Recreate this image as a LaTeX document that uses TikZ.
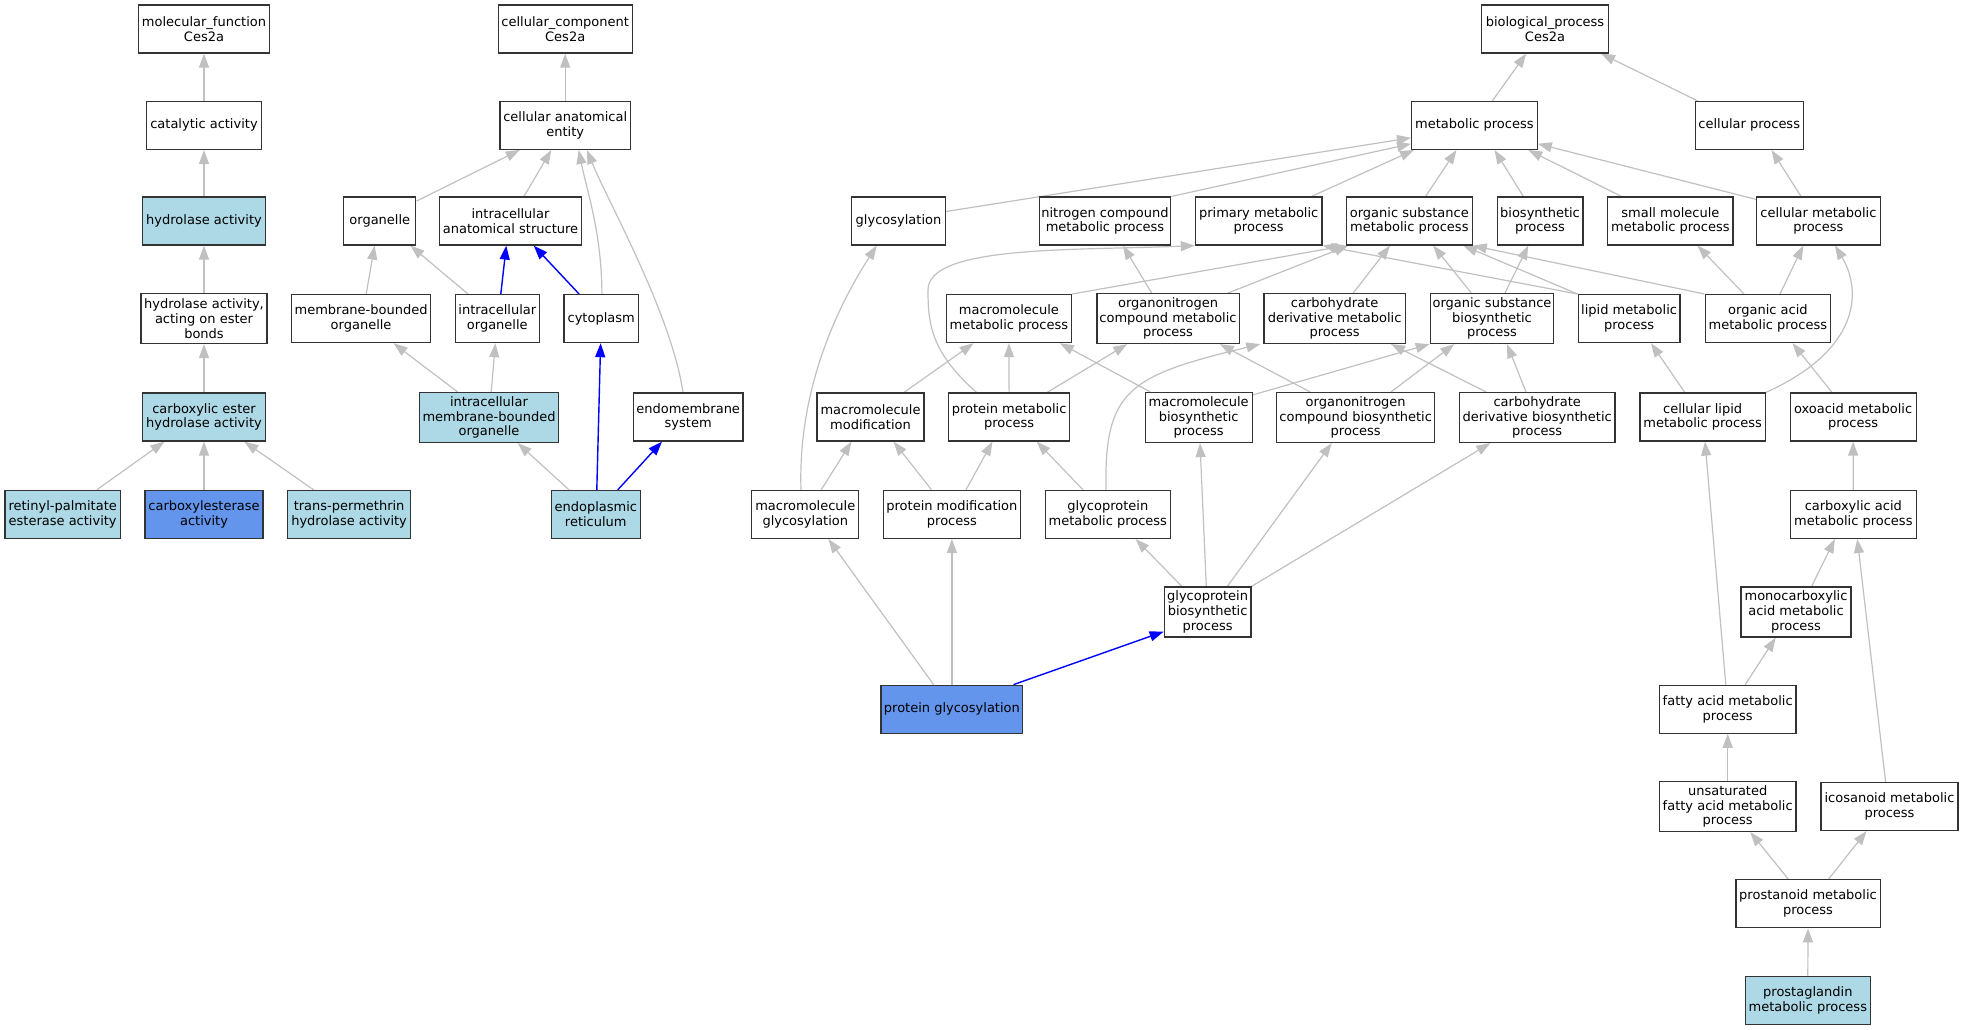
\documentclass[tikz,border=0pt]{standalone}
\usepackage{fontspec}
\setmainfont{DejaVu Sans}
\usetikzlibrary{arrows.meta,calc,backgrounds}
\definecolor{lightblue}{HTML}{ADD8E6}
\definecolor{cornflower}{HTML}{6495ED}
\definecolor{edgegray}{HTML}{C0C0C0}
\definecolor{boxc}{HTML}{333333}
\tikzset{
  box/.style={draw=boxc, line width=1.2bp, fill=white, minimum height=48bp, inner sep=1bp, align=center,
    font=\fontsize{13bp}{14.8bp}\selectfont},
  lb/.style={fill=lightblue},
  cb/.style={fill=cornflower},
  tall/.style={minimum height=50bp},
  gedge/.style={draw=edgegray, line width=1.2bp, -{Triangle[length=14bp,width=10bp]}},
  bedge/.style={draw=blue, line width=1.4bp, -{Triangle[length=14bp,width=10bp]}}
}
\newcommand\nd[6][]{\node[box,#1,minimum width=#5bp] (#2) at (#3,#4) {#6};}
\newcommand\ed[5][gedge]{\draw[#1] ($(#2.north)+(#3,0)$) -- ($(#4.south)+(#5,0)$);}
\begin{document}
\begin{tikzpicture}[x=1bp,y=-1bp]
\useasboundingbox (0,0) rectangle (1963,1029);
% ---------- molecular function ----------
\nd{mf}{204}{29}{130.5}{molecular\_function\\Ces2a}
\nd{cat}{204}{125.4}{115}{catalytic activity}
\nd[lb]{hyd}{204}{221}{123}{hydrolase activity}
\nd[tall]{hye}{204}{318.5}{126}{hydrolase activity,\\acting on ester\\bonds}
\nd[lb]{ceh}{204}{417}{123}{carboxylic ester\\hydrolase activity}
\nd[lb]{ret}{62.7}{514.4}{115.3}{retinyl-palmitate\\esterase activity}
\nd[cb]{cxe}{204}{514.4}{118}{carboxylesterase\\activity}
\nd[lb]{tpm}{349.1}{514.4}{122.5}{trans-permethrin\\hydrolase activity}
% ---------- cellular component ----------
\nd{cc}{565.2}{29}{134}{cellular\_component\\Ces2a}
\nd{cae}{565.2}{125.4}{130.5}{cellular anatomical\\entity}
\nd{org}{379.8}{221}{72}{organelle}
\nd{ias}{510.5}{221}{141.4}{intracellular\\anatomical structure}
\nd{mbo}{361.1}{318.6}{139}{membrane-bounded\\organelle}
\nd{io}{497.3}{318.6}{83.7}{intracellular\\organelle}
\nd{cyt}{601.2}{318.6}{74.5}{cytoplasm}
\nd[lb,tall]{imb}{489}{417.5}{139}{intracellular\\membrane-bounded\\organelle}
\nd[lb]{er}{595.8}{514.4}{89}{endoplasmic\\reticulum}
\nd{ems}{688.2}{417}{109.5}{endomembrane\\system}
% ---------- biological process ----------
\nd{bp}{1545}{29}{126.4}{biological\_process\\Ces2a}
\nd{mp}{1474.4}{125.4}{125.6}{metabolic process}
\nd{cp}{1749.2}{125.4}{107.8}{cellular process}
\nd{gly}{898.5}{221}{94}{glycosylation}
\nd{ncm}{1105}{221}{131.7}{nitrogen compound\\metabolic process}
\nd{pri}{1258.7}{221}{126.6}{primary metabolic\\process}
\nd{osm}{1409.3}{221}{125.6}{organic substance\\metabolic process}
\nd{bio}{1540}{221}{85.8}{biosynthetic\\process}
\nd{smm}{1670.4}{221}{125.2}{small molecule\\metabolic process}
\nd{cme}{1818.4}{221}{123.5}{cellular metabolic\\process}
\nd{mmp}{1008.9}{318.6}{125.4}{macromolecule\\metabolic process}
\nd[tall]{onm}{1168}{318.5}{142.2}{organonitrogen\\compound metabolic\\process}
\nd[tall]{cdm}{1334.6}{318.5}{141.3}{carbohydrate\\derivative metabolic\\process}
\nd[tall]{osb}{1492}{318.5}{123.5}{organic substance\\biosynthetic\\process}
\nd{lip}{1629.1}{318.6}{101.9}{lipid metabolic\\process}
\nd{oam}{1767.9}{318.6}{125.6}{organic acid\\metabolic process}
\nd{mmo}{870.5}{417}{107}{macromolecule\\modification}
\nd{prm}{1009.1}{417}{120.8}{protein metabolic\\process}
\nd[tall]{mbp}{1198.7}{417.5}{107}{macromolecule\\biosynthetic\\process}
\nd[tall]{onb}{1355.7}{417.5}{158.3}{organonitrogen\\compound biosynthetic\\process}
\nd[tall]{cdb}{1537.2}{417.5}{155.6}{carbohydrate\\derivative biosynthetic\\process}
\nd{clm}{1702.6}{417}{125.2}{cellular lipid\\metabolic process}
\nd{oxo}{1853.1}{417}{126}{oxoacid metabolic\\process}
\nd{mgl}{805.3}{514.4}{107}{macromolecule\\glycosylation}
\nd{pmo}{951.9}{514.4}{136.8}{protein modification\\process}
\nd{gpm}{1107.8}{514.4}{125.4}{glycoprotein\\metabolic process}
\nd{cam}{1853.3}{514.4}{125.6}{carboxylic acid\\metabolic process}
\nd[tall]{gpb}{1207.6}{612}{86.7}{glycoprotein\\biosynthetic\\process}
\nd[tall]{mca}{1796}{612}{110}{monocarboxylic\\acid metabolic\\process}
\nd[cb]{pgl}{951.9}{709.2}{141.8}{protein glycosylation}
\nd{fam}{1727.7}{709.2}{136.6}{fatty acid metabolic\\process}
\nd[tall]{ufa}{1727.7}{806.5}{136.6}{unsaturated\\fatty acid metabolic\\process}
\nd{ico}{1889.5}{806.4}{137}{icosanoid metabolic\\process}
\nd{pro}{1808}{903.8}{144.2}{prostanoid metabolic\\process}
\nd[lb]{pgm}{1807.8}{1000.2}{125.2}{prostaglandin\\metabolic process}
\coordinate (via1) at (928,290);
\begin{scope}[on background layer]
% MF edges
\ed{cat}{0}{mf}{0}
\ed{hyd}{0}{cat}{0}
\ed{hye}{0}{hyd}{0}
\ed{ceh}{0}{hye}{0}
\ed{ret}{34.1}{ceh}{-39.6}
\ed{cxe}{0}{ceh}{0}
\ed{tpm}{-35.5}{ceh}{40.4}
% CC edges
\ed{cae}{0}{cc}{0}
\draw[gedge] ($(org.north east)+(0,4.7)$) -- ($(cae.south)+(-45.4,0)$);
\ed{ias}{13.5}{cae}{-13.9}
\draw[gedge] ($(cyt.north)+(0.7,0)$) .. controls +(0,-60) and +(8,40) .. ($(cae.south)+(13.5,0)$);
\draw[gedge] ($(ems.north)+(-5.2,0)$) .. controls +(-12,-80) and +(20,50) .. ($(cae.south)+(21.8,0)$);
\ed{mbo}{5.1}{org}{-5.2}
\ed{io}{-29.3}{org}{30.6}
\ed[bedge]{io}{3.5}{ias}{-4.2}
\ed[bedge]{cyt}{-22.1}{ias}{23.2}
\ed{imb}{-31.5}{mbo}{32.4}
\ed{imb}{2.2}{io}{-1.9}
\ed{er}{-26.8}{imb}{28.7}
\ed[bedge]{er}{1}{cyt}{-0.6}
\ed[bedge]{er}{22}{ems}{-26.2}
% BP edges
\ed{mp}{18}{bp}{-18.8}
\ed{cp}{-51.7}{bp}{56}
\draw[gedge] ($(gly.east)+(0,-9.5)$) -- ($(mp.west)+(0,12.4)$);
\draw[gedge] (ncm.north east) -- ($(mp.west)+(0,18.4)$);
\ed{pri}{52.8}{mp}{-60.4}
\ed{osm}{16.3}{mp}{-18}
\ed{bio}{-16.7}{mp}{20.1}
\ed{smm}{-49}{mp}{53.9}
\draw[gedge] ($(cme.north west)+(0,3)$) -- ($(mp.east)+(0,18.4)$);
\ed{cme}{-17.4}{cp}{22.3}
\ed{oam}{-23.9}{smm}{27.1}
\ed{oam}{12.1}{cme}{-15.2}
\draw[gedge] (oam.north west) -- (osm.south east);
\draw[gedge] (lip.north west) -- ($(osm.south)+(54,0)$);
\draw[gedge] (lip.north west) -- (pri.south east);
\draw[gedge] (mmp.north east) -- (osm.south west);
\ed{onm}{60.3}{osm}{-61}
\ed{onm}{-16.4}{ncm}{18}
\ed{cdm}{18.7}{osm}{-19.3}
\ed{osb}{-20.8}{osm}{23.9}
\ed{osb}{13}{bio}{-11.7}
\draw[gedge] (clm.north east) .. controls +(94.8,-42.5) and +(27,45) .. ($(cme.south)+(16.6,0)$);
\ed{mmo}{33.5}{mmp}{-35.3}
\ed{prm}{0}{mmp}{0}
\ed{prm}{38.1}{onm}{-40.8}
\draw[gedge] ($(prm.north)+(-32.6,0)$) .. controls +(-45,-40) and +(0,35) .. (via1)
  .. controls +(0,-45) and +(-120,5) .. (pri.south west);
\ed{mbp}{-48.4}{mmp}{50.9}
\draw[gedge] ($(mbp.north east)+(0,3)$) -- (osb.south west);
\ed{onb}{-45.7}{onm}{51.8}
\ed{onb}{35.3}{osb}{-37.7}
\ed{cdb}{-51.2}{cdm}{56.4}
\ed{cdb}{-11.2}{osb}{15}
\ed{clm}{-17.8}{lip}{21.9}
\ed{oxo}{-21.1}{oam}{24.7}
\ed{mgl}{15.9}{mmo}{-19}
\draw[gedge] ($(mgl.north)+(-4.3,0)$) .. controls +(-3,-90.4) and +(-46.7,72.7) .. ($(gly.south)+(-21.8,0)$);
\ed{pmo}{-20.4}{mmo}{23.1}
\ed{pmo}{14.1}{prm}{-16.6}
\ed{gpm}{-24.8}{prm}{27.6}
\draw[gedge] ($(gpm.north)+(-1.8,0)$) .. controls +(-2,-100.4) and +(-131,31.5) .. ($(cdm.south west)+(-3,0)$);
\ed{cam}{0}{oxo}{0}
\ed{gpb}{-25.7}{gpm}{27.8}
\ed{gpb}{-1.3}{mbp}{1.3}
\ed{gpb}{19.7}{onb}{-24}
\draw[gedge] (gpb.north east) -- ($(cdb.south)+(-46.9,0)$);
\ed{mca}{15.6}{cam}{-18.4}
\ed{ico}{-3.9}{cam}{4}
\ed{pgl}{-18.3}{mgl}{23.1}
\ed{pgl}{0}{pmo}{0}
\draw[bedge] ($(pgl.north)+(61.6,0)$) -- ($(gpb.south west)+(0,-6)$);
\ed{fam}{17.5}{mca}{-20.3}
\ed{fam}{-1.9}{clm}{2.4}
\ed{ufa}{0}{fam}{0}
\ed{pro}{-19.6}{ufa}{22.6}
\ed{pro}{20.5}{ico}{-22.9}
\ed{pgm}{0}{pro}{0}
\end{scope}
\end{tikzpicture}
\end{document}
